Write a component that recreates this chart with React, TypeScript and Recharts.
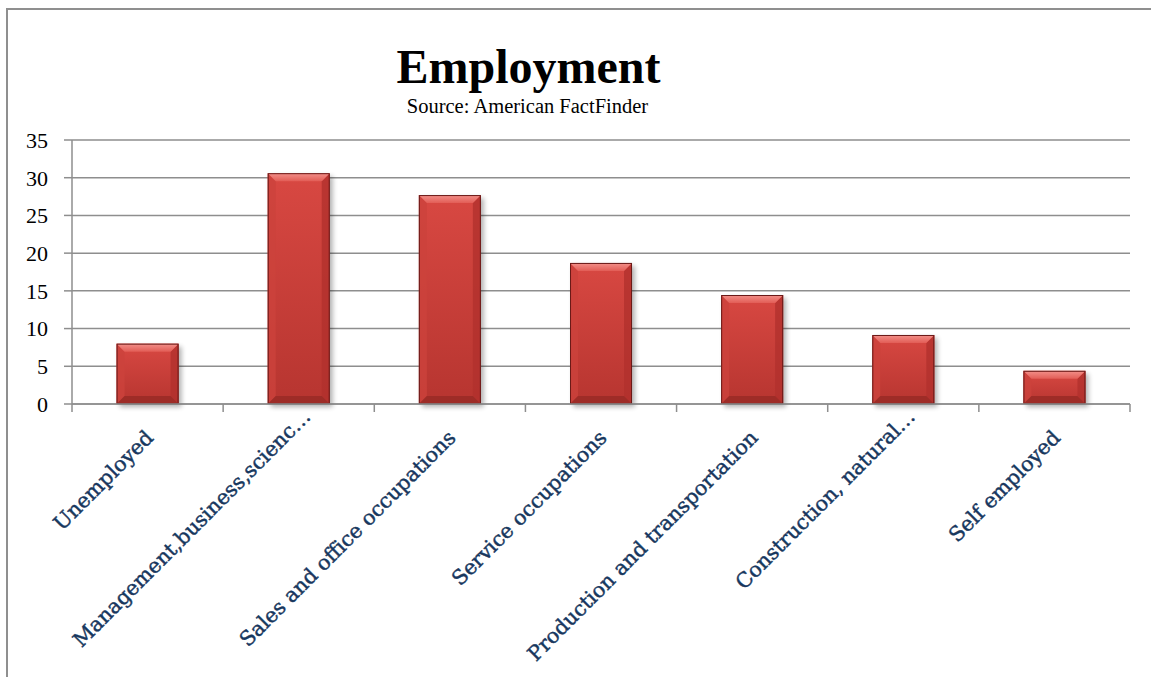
import React from "react";
import { BarChart, Bar, XAxis, YAxis, CartesianGrid } from "recharts";

// ─── Data ─────────────────────────────────────────────────────────────────────

const categories = [
  "Unemployed",
  "Management,business,scienc…",
  "Sales and office occupations",
  "Service occupations",
  "Production and transportation",
  "Construction, natural…",
  "Self employed",
];

const percentages = [8.0, 30.6, 27.7, 18.7, 14.45, 9.15, 4.4];

const yTicks = [0, 5, 10, 15, 20, 25, 30, 35];

const chartData = categories.map((name, i) => ({ name, value: percentages[i] }));

// ─── Styling ──────────────────────────────────────────────────────────────────

const GRID = "#8e8e8e";
const LABEL_BLUE = "#17375e";
const SERIF = "'Liberation Serif', 'Times New Roman', serif";

// ─── Bevelled bar ─────────────────────────────────────────────────────────────

function BevelBar(props: any) {
  const { x, y, width: w, height: h, index } = props;
  if (!h || h <= 0) return null;
  const b = Math.min(8, h / 2, w / 2);
  const id = `bb${index}`;
  return (
    <g>
      <defs>
        <linearGradient id={`${id}-face`} x1="0" y1="0" x2="0" y2="1">
          <stop offset="0" stopColor="#d84842" />
          <stop offset="1" stopColor="#b73530" />
        </linearGradient>
        <linearGradient id={`${id}-top`} x1="0" y1="0" x2="0" y2="1">
          <stop offset="0" stopColor="#f3918b" />
          <stop offset="1" stopColor="#e25d56" />
        </linearGradient>
        <filter id={`${id}-sh`} x="-30%" y="-30%" width="170%" height="170%">
          <feGaussianBlur stdDeviation="2.5" />
        </filter>
      </defs>
      <rect
        x={x + 3}
        y={y + 3}
        width={w}
        height={h}
        fill="#000"
        opacity={0.3}
        filter={`url(#${id}-sh)`}
      />
      <rect x={x} y={y} width={w} height={h} fill={`url(#${id}-face)`} />
      <polygon
        points={`${x},${y} ${x + b},${y + b} ${x + b},${y + h - b} ${x},${y + h}`}
        fill="#cc423c"
        opacity={0.8}
      />
      <polygon
        points={`${x + w},${y} ${x + w},${y + h} ${x + w - b},${y + h - b} ${x + w - b},${y + b}`}
        fill="#b1312d"
        opacity={0.8}
      />
      <polygon
        points={`${x},${y + h} ${x + b},${y + h - b} ${x + w - b},${y + h - b} ${x + w},${y + h}`}
        fill="#992a26"
        opacity={0.85}
      />
      <polygon
        points={`${x},${y} ${x + w},${y} ${x + w - b},${y + b} ${x + b},${y + b}`}
        fill={`url(#${id}-top)`}
      />
      <rect
        x={x + 0.5}
        y={y + 0.5}
        width={w - 1}
        height={h - 1}
        fill="none"
        stroke="#6a1a18"
        strokeWidth={1}
      />
    </g>
  );
}

// ─── Category tick (rotated label + boundary tick marks) ──────────────────────

function CategoryTick(props: any) {
  const { x, y, payload, index } = props;
  const half = payload?.offset ?? 75.5;
  // Excel lets truncated labels run a little further up the diagonal
  const truncated = String(payload.value).endsWith("…");
  const tx = x + (truncated ? 13 : 7);
  const ty = y + (truncated ? 6 : 27);
  return (
    <g>
      <line x1={x - half} y1={y - 8} x2={x - half} y2={y} stroke={GRID} strokeWidth={1.5} />
      {index === categories.length - 1 && (
        <line x1={x + half} y1={y - 8} x2={x + half} y2={y} stroke={GRID} strokeWidth={1.5} />
      )}
      <text
        x={tx}
        y={ty}
        transform={`rotate(-45 ${tx} ${ty})`}
        textAnchor="end"
        fontFamily="'DejaVu Serif', serif"
        fontSize={20.5}
        fill={LABEL_BLUE}
        stroke={LABEL_BLUE}
        strokeWidth={0.45}
      >
        {payload.value}
      </text>
    </g>
  );
}

// ─── Component ────────────────────────────────────────────────────────────────

export default function App() {
  return (
    <div
      style={{
        position: "absolute",
        left: 0,
        top: 0,
        width: 1151,
        height: 677,
        overflow: "hidden",
        background: "#fff",
      }}
    >
      {/* chart frame (only top/left edges fall inside the picture) */}
      <div
        style={{
          position: "absolute",
          left: 6,
          top: 8,
          width: 1300,
          height: 800,
          border: "2px solid #8f8f8f",
        }}
      />

      <div
        style={{
          position: "absolute",
          left: 0,
          top: 43,
          width: 1057,
          textAlign: "center",
          fontFamily: SERIF,
          fontWeight: "bold",
          fontSize: 48,
          lineHeight: "48px",
          color: "#000",
        }}
      >
        Employment
      </div>
      <div
        style={{
          position: "absolute",
          left: 0,
          top: 96,
          width: 1055,
          textAlign: "center",
          fontFamily: SERIF,
          fontSize: 20.5,
          lineHeight: "20px",
          color: "#000",
        }}
      >
        Source: American FactFinder
      </div>

      <div style={{ position: "absolute", left: 0, top: 0 }}>
        <BarChart
          width={1151}
          height={677}
          data={chartData}
          margin={{ top: 140, right: 21, bottom: 0, left: 0 }}
          barCategoryGap="29.5%"
        >
          <CartesianGrid vertical={false} stroke={GRID} strokeWidth={1.5} />
          <XAxis
            dataKey="name"
            interval={0}
            height={273}
            tickLine={false}
            tickSize={8}
            tickMargin={0}
            axisLine={{ stroke: GRID, strokeWidth: 1.5 }}
            tick={<CategoryTick />}
          />
          <YAxis
            width={72}
            domain={[0, 35]}
            ticks={yTicks}
            interval={0}
            tickSize={8}
            tickMargin={16}
            axisLine={{ stroke: GRID, strokeWidth: 1.5 }}
            tickLine={{ stroke: GRID, strokeWidth: 1.5 }}
            tick={{ fontFamily: SERIF, fontSize: 22, fill: "#000" }}
          />
          <Bar dataKey="value" shape={<BevelBar />} isAnimationActive={false} />
        </BarChart>
      </div>
    </div>
  );
}
